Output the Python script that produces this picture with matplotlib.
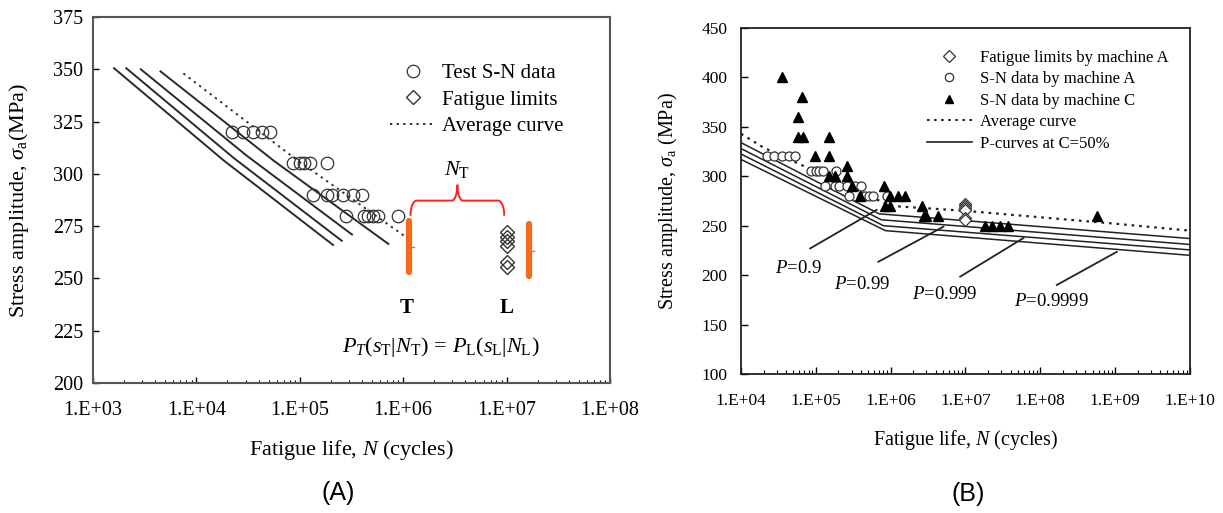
import numpy as np
import matplotlib.pyplot as plt
from matplotlib.lines import Line2D
from matplotlib.ticker import FuncFormatter, LogLocator, FixedLocator

plt.rcParams['font.family'] = ['Liberation Serif', 'DejaVu Serif']
plt.rcParams['mathtext.fontset'] = 'custom'
plt.rcParams['mathtext.rm'] = 'Liberation Serif'
plt.rcParams['mathtext.it'] = 'Liberation Serif:italic'
plt.rcParams['mathtext.bf'] = 'Liberation Serif:bold'

# ---------------- data: machine A test S-N points (shared by both panels)
sn_N = [2.2e4, 2.8e4, 3.5e4, 4.35e4, 5.2e4,
        8.6e4, 1.0e5, 1.1e5, 1.26e5, 1.84e5,
        1.33e5, 1.82e5, 2.06e5, 2.64e5, 3.3e5, 3.97e5,
        2.78e5, 4.18e5, 4.6e5, 5.07e5, 5.74e5, 8.97e5]
sn_S = [320, 320, 320, 320, 320,
        305, 305, 305, 305, 305,
        290, 290, 290, 290, 290, 290,
        280, 280, 280, 280, 280, 280]

# fatigue limits at 1E+07
fl_N = [1e7, 1e7, 1e7, 1e7, 1e7, 1e7]
fl_S = [272, 270, 268, 265.5, 258, 255.5]

# panel A: P-S-N curves (start, middle, end)
a_pcurve_N = [[1.6e3, 1.83e4, 2.1e5],
              [2.1e3, 2.31e4, 2.55e5],
              [2.9e3, 3.05e4, 3.2e5],
              [4.5e3, 5.7e4, 7.2e5]]
a_pcurve_S = [[350.5, 306.5, 266.0],
              [350.5, 307.5, 268.0],
              [350.0, 308.8, 271.0],
              [349.0, 306.0, 266.5]]
a_avg_N = [7.5e3, 8.9e4, 1.05e6]
a_avg_S = [348.0, 307.5, 270.0]

# panel A: test (T) and long-life (L) distributions
dist_N = [1.13e6, 1.65e7]
dist_lo = [253.0, 251.0]
dist_hi = [277.5, 276.0]
dist_mid = [265.2, 263.3]
brace_N = [1.18e6, 9.5e6]
brace_S = [280.4, 287.2, 294.6]   # ends, bar, tip

# panel B: machine C S-N data
c_N = [3.5e4, 6.5e4, 5.8e4, 5.8e4, 6.7e4, 1.51e5, 9.8e4, 1.51e5, 2.59e5,
       1.51e5, 1.8e5, 2.59e5, 3.02e5, 8.2e5, 3.9e5, 9.8e5, 1.27e6, 1.56e6,
       8.4e5, 9.8e5, 2.6e6, 2.75e6, 3.0e6, 4.3e6, 5.7e8,
       1.83e7, 2.24e7, 2.9e7, 3.75e7]
c_S = [400, 380, 360, 340, 340, 340, 320, 320, 310,
       300, 300, 300, 290, 290, 280, 280, 280, 280,
       270, 270, 270, 260, 260, 260, 260,
       250, 250, 250, 250]

# panel B: average curve and P-curves (C = 50%)
b_avg_N = [1e4, 2e4, 1e6, 1e7, 1e8, 1e9, 1e10]
b_avg_S = [343, 329, 270, 265, 258.5, 252, 245]
b_pcurve_N = [[1e4, 7.0e5, 1e10],
              [1e4, 7.5e5, 1e10],
              [1e4, 8.0e5, 1e10],
              [1e4, 8.5e5, 1e10]]
b_pcurve_S = [[334, 262, 237],
              [328, 256, 231],
              [322.5, 250, 225.5],
              [317, 245, 220]]

p_labels = ['$P$=0.9', '$P$=0.99', '$P$=0.999', '$P$=0.9999']
p_text_N = [5.8e4, 4.1e5, 5.3e6, 1.39e8]
p_text_S = [207, 191, 180, 173]
p_lead_N = [[8.4e4, 6.5e5], [6.85e5, 5.07e6], [8.5e6, 5.96e7], [1.66e8, 1.05e9]]
p_lead_S = [[227, 266], [213.5, 249], [198.5, 237.5], [190, 223.5]]


def sci_fmt(v, pos):
    return '1.E+%02d' % int(round(np.log10(v)))


def draw_brace(ax, n_left, n_right, s, color):
    y_end, y_bar, y_tip = s
    lx0, lx1 = np.log10(n_left), np.log10(n_right)
    lxm = (lx0 + lx1) / 2
    r1, r2 = 0.06, 0.055
    t = np.linspace(np.pi, np.pi / 2, 20)
    left_x = list(lx0 + r1 + r1 * np.cos(t))
    left_y = list(y_end + (y_bar - y_end) * np.sin(t))
    t = np.linspace(-np.pi / 2, 0, 20)
    left_x += list(lxm - r2 + r2 * np.cos(t))
    left_y += list(y_tip + (y_tip - y_bar) * np.sin(t))
    lx = np.array(left_x)
    ly = np.array(left_y)
    xs = np.concatenate([lx, (2 * lxm - lx)[::-1]])
    ys = np.concatenate([ly, ly[::-1]])
    ax.plot(10 ** xs, ys, color=color, lw=1.4)


fig = plt.figure(figsize=(12.23, 5.13), dpi=100)

# ======================= panel A
axA = fig.add_axes([0.0760, 0.2534, 0.4227, 0.7135])
axA.set_xscale('log')
for n, s in zip(a_pcurve_N, a_pcurve_S):
    axA.plot(n, s, color='#2a2a2a', lw=1.4)
axA.plot(a_avg_N, a_avg_S, color='#333333', lw=1.4, ls=(0, (1.2, 2.2)))
axA.plot(sn_N, sn_S, 'o', mfc='none', mec='#333333', mew=0.9, ms=9)
axA.plot(fl_N, fl_S, 'D', mfc='none', mec='#333333', mew=1.0, ms=7)

orange = '#f26a1c'
for n, lo, hi, mid in zip(dist_N, dist_lo, dist_hi, dist_mid):
    axA.plot([n, n], [lo, hi], color=orange, lw=4.5, solid_capstyle='round')
    axA.plot([n, n * 1.12], [mid, mid], color=orange, lw=1.0)
draw_brace(axA, brace_N[0], brace_N[1], brace_S, '#ff2020')

brace_mid = np.sqrt(brace_N[0] * brace_N[1])
axA.text(brace_mid, 302, r'$N_{\rm T}$', ha='center', va='center', fontsize=16)
axA.text(1.08e6, 236, 'T', ha='center', va='center', fontsize=15, fontweight='bold')
axA.text(1.0e7, 236, 'L', ha='center', va='center', fontsize=15, fontweight='bold')
axA.text(2.3e6, 217, r'$P_T(s_{\rm T}|N_{\rm T})\,=\,P_{\rm L}(s_{\rm L}|N_{\rm L})$',
         ha='center', va='center', fontsize=16)

axA.set_xlim(1e3, 1e8)
axA.set_ylim(200, 375)
axA.yaxis.set_major_locator(FixedLocator(np.arange(200, 376, 25)))
axA.xaxis.set_major_locator(LogLocator(base=10))
axA.xaxis.set_minor_locator(LogLocator(base=10, subs=np.arange(2, 10)))
axA.xaxis.set_major_formatter(FuncFormatter(sci_fmt))
axA.tick_params(which='both', direction='in', labelsize=14.5)
axA.tick_params(which='major', length=4, width=1)
axA.tick_params(which='minor', length=2.5, width=0.8)
axA.tick_params(axis='x', pad=13)
axA.tick_params(axis='y', pad=7)
for sp in axA.spines.values():
    sp.set_color('#555555')
    sp.set_linewidth(1.5)
axA.set_xlabel(r'Fatigue life, $N$ (cycles)', fontsize=16)
axA.set_ylabel(r'Stress amplitude, $\sigma_{\rm a}$(MPa)', fontsize=16)
axA.xaxis.set_label_coords(0.5, -0.15)
axA.yaxis.set_label_coords(-0.12, 0.5)

hA = [Line2D([], [], marker='o', ls='none', mfc='none', mec='#333333', mew=0.9, ms=9),
      Line2D([], [], marker='D', ls='none', mfc='none', mec='#333333', mew=1.0, ms=7),
      Line2D([], [], color='#333333', lw=1.4, ls=(0, (1.2, 2.2)))]
axA.legend(hA, ['Test S-N data', 'Fatigue limits', 'Average curve'],
           loc='upper left', bbox_to_anchor=(0.575, 0.872), frameon=False,
           fontsize=15, handlelength=2.2, handletextpad=0.3,
           labelspacing=0.32, borderpad=0, borderaxespad=0)

# ======================= panel B
axB = fig.add_axes([0.6059, 0.2710, 0.3671, 0.6745])
axB.set_xscale('log')
for n, s in zip(b_pcurve_N, b_pcurve_S):
    axB.plot(n, s, color='#222222', lw=1.1)
axB.plot(b_avg_N, b_avg_S, color='#222222', lw=1.6, ls=(0, (1.2, 2.2)))
axB.plot(sn_N, sn_S, 'o', mfc='white', mec='#333333', mew=0.9, ms=6.5)
axB.plot(c_N, c_S, '^', color='black', ms=6.5)
axB.plot(fl_N, fl_S, 'D', mfc='white', mec='#333333', mew=0.9, ms=6.5)

for lab, tn, ts, ln, ls_ in zip(p_labels, p_text_N, p_text_S, p_lead_N, p_lead_S):
    axB.plot(ln, ls_, color='#222222', lw=1.3)
    axB.text(tn, ts, lab, ha='center', va='center', fontsize=13.5)

axB.set_xlim(1e4, 1e10)
axB.set_ylim(100, 450)
axB.yaxis.set_major_locator(FixedLocator(np.arange(100, 451, 50)))
axB.xaxis.set_major_locator(LogLocator(base=10, numticks=10))
axB.xaxis.set_minor_locator(LogLocator(base=10, subs=np.arange(2, 10), numticks=100))
axB.xaxis.set_major_formatter(FuncFormatter(sci_fmt))
axB.tick_params(which='both', direction='in', labelsize=12.5)
axB.tick_params(which='major', length=5, width=1)
axB.tick_params(which='minor', length=3, width=0.8)
axB.tick_params(axis='x', pad=14)
axB.tick_params(axis='y', pad=10)
for sp in axB.spines.values():
    sp.set_color('#222222')
    sp.set_linewidth(1.3)
axB.set_xlabel(r'Fatigue life, $N$ (cycles)', fontsize=14.5)
axB.set_ylabel(r'Stress amplitude, $\sigma_{\rm a}$ (MPa)', fontsize=14.5)
axB.xaxis.set_label_coords(0.5, -0.155)
axB.yaxis.set_label_coords(-0.135, 0.5)

hB = [Line2D([], [], marker='D', ls='none', mfc='none', mec='#333333', mew=0.9, ms=6),
      Line2D([], [], marker='o', ls='none', mfc='none', mec='#333333', mew=0.9, ms=6),
      Line2D([], [], marker='^', ls='none', color='black', ms=6),
      Line2D([], [], color='#222222', lw=1.5, ls=(0, (1.2, 2.2))),
      Line2D([], [], color='#222222', lw=1.2)]
axB.legend(hB, ['Fatigue limits by machine A', 'S-N data by machine A',
                'S-N data by machine C', 'Average curve', 'P-curves at C=50%'],
           loc='upper left', bbox_to_anchor=(0.4136, 0.937), frameon=False,
           fontsize=12, handlelength=2.7, handletextpad=0.5,
           labelspacing=0.33, borderpad=0, borderaxespad=0)

fig.text(0.2764, 0.039, '(A)', ha='center', va='center', fontsize=18,
         family='Liberation Sans')
fig.text(0.7920, 0.037, '(B)', ha='center', va='center', fontsize=18,
         family='Liberation Sans')

fig.savefig('out.png', dpi=100)
